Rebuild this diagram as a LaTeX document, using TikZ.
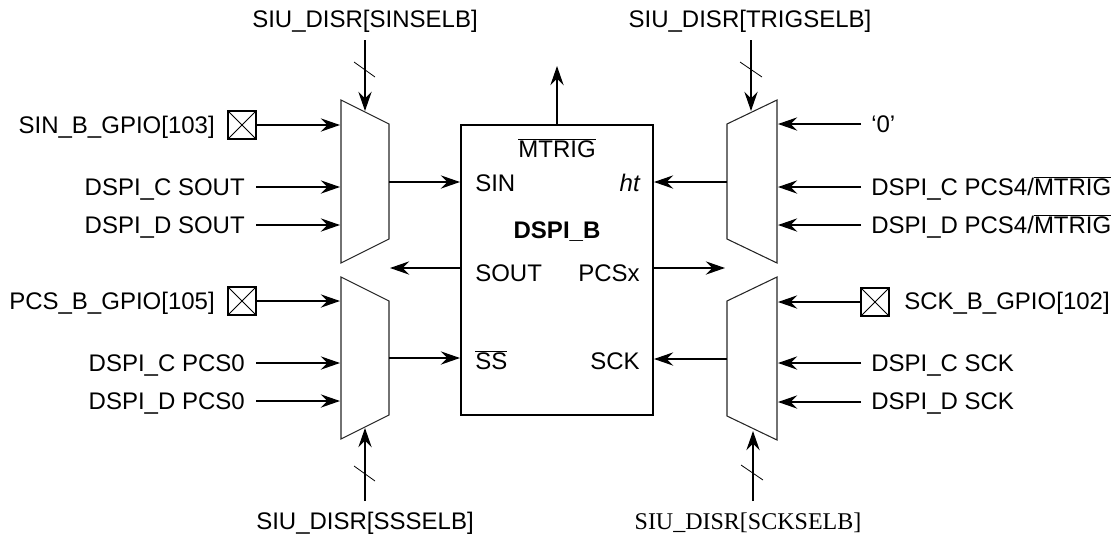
\documentclass[tikz,border=0pt]{standalone}
\usepackage{fontspec}
\setmainfont{Liberation Sans}
\newfontfamily\serifFnt{Liberation Serif}
\usetikzlibrary{arrows.meta,shapes.misc}
\tikzset{
  sigLine/.style={line width=1.5pt,-{Stealth[length=14.5pt,width=10pt,inset=5pt]}},
  muxLine/.style={line width=.8pt,draw=black!85},
  tickLine/.style={line width=.6pt},
  blockBox/.style={draw,line width=1.5pt,minimum width=144pt,minimum height=217.5pt,inner sep=0pt},
  pinBox/.style={draw,cross out,line width=.6pt,minimum size=21pt,inner sep=0pt},
  pinFrame/.style={draw,line width=1.5pt,minimum size=21pt,inner sep=0pt},
  lblTxt/.style={font=\fontsize{18}{22}\selectfont,inner sep=0pt},
  lblL/.style={lblTxt,anchor=mid west,yshift=-4pt},
  lblR/.style={lblTxt,anchor=mid east,yshift=-4pt}
}
\newcommand{\ovl}[1]{$\overline{\mbox{#1}}$}
\begin{document}
\begin{tikzpicture}[x=.75pt,y=-.75pt]

\useasboundingbox (0,0) rectangle (1114,536);

% block
\node[blockBox] (DSPIB) at (557,270) {};

% muxes
\draw[muxLine] (341,100) -- (389,124) -- (389,239) -- (341,263) -- cycle;
\draw[muxLine] (341,277) -- (389,301) -- (389,415) -- (341,439) -- cycle;
\draw[muxLine] (777,100) -- (727,124) -- (727,239) -- (777,263) -- cycle;
\draw[muxLine] (777,277) -- (727,301) -- (727,416) -- (777,440) -- cycle;

% pins
\node[pinBox] (PinSin) at (242,125) {};
\node[pinFrame] at (PinSin) {};
\node[pinBox] (PinPcs) at (242,301) {};
\node[pinFrame] at (PinPcs) {};
\node[pinBox] (PinSck) at (875,302) {};
\node[pinFrame] at (PinSck) {};

% labels, left
\node[lblR] (SinGpio) at (215,125) {SIN\_B\_GPIO[103]};
\node[lblR] (CSout) at (245,187) {DSPI\_C SOUT};
\node[lblR] (DSout) at (245,225) {DSPI\_D SOUT};
\node[lblR] (PcsGpio) at (215,301) {PCS\_B\_GPIO[105]};
\node[lblR] (CPcs) at (245,363) {DSPI\_C PCS0};
\node[lblR] (DPcs) at (245,401) {DSPI\_D PCS0};

% labels, right
\node[lblL] (Zero) at (871,124) {`0'};
\node[lblL] (CTrig) at (871,187) {DSPI\_C PCS4/\ovl{MTRIG}};
\node[lblL] (DTrig) at (871,225) {DSPI\_D PCS4/\ovl{MTRIG}};
\node[lblL] (SckGpio) at (904,301) {SCK\_B\_GPIO[102]};
\node[lblL] (CSck) at (871,363) {DSPI\_C SCK};
\node[lblL] (DSck) at (871,401) {DSPI\_D SCK};

% labels, select
\node[lblTxt] (SelSin) at (365,21) {SIU\_DISR[SINSELB]};
\node[lblTxt] (SelTrig) at (750,21) {SIU\_DISR[TRIGSELB]};
\node[lblTxt] (SelSs) at (365,523) {SIU\_DISR[SSSELB]};
\node[lblTxt,font=\fontsize{18}{22}\serifFnt] (SelSck) at (748,523) {SIU\_DISR[SCKSELB]};

% labels, block
\node[lblTxt] (Mtrig) at (557,148) {\ovl{MTRIG}};
\node[lblTxt,font=\fontsize{18}{22}\selectfont\bfseries] (Name) at (557,232) {DSPI\_B};
\node[lblL] (Sin) at (475,183) {SIN};
\node[lblR] (Ht) at (640,183) {\itshape ht};
\node[lblL] (Sout) at (475,273) {SOUT};
\node[lblR] (Pcsx) at (640,273) {PCSx};
\node[lblL] (Ss) at (475,361) {\ovl{SS}};
\node[lblR] (Sck) at (640,361) {SCK};

% free ends on the muxes
\coordinate (a1) at (340,125);
\coordinate (a2) at (340,187);
\coordinate (a3) at (340,225);
\coordinate (a4) at (389,182);
\coordinate (b1) at (340,301);
\coordinate (b2) at (340,363);
\coordinate (b3) at (340,401);
\coordinate (b4) at (389,358);
\coordinate (c1) at (778,124);
\coordinate (c2) at (778,187);
\coordinate (c3) at (778,225);
\coordinate (c4) at (727,182);
\coordinate (d1) at (778,302);
\coordinate (d2) at (778,363);
\coordinate (d3) at (778,402);
\coordinate (d4) at (727,359);

% left inputs
\draw[sigLine] (PinSin.east) -- (a1);
\draw[sigLine] (256,187) coordinate (a2s) -- (a2);
\draw[sigLine] (256,225) coordinate (a3s) -- (a3);
\draw[sigLine] (PinPcs.east) -- (b1);
\draw[sigLine] (256,363) coordinate (b2s) -- (b2);
\draw[sigLine] (256,401) coordinate (b3s) -- (b3);

% right inputs
\draw[sigLine] (861,124) coordinate (c1s) -- (c1);
\draw[sigLine] (861,187) coordinate (c2s) -- (c2);
\draw[sigLine] (861,225) coordinate (c3s) -- (c3);
\draw[sigLine] (PinSck.west) -- (d1);
\draw[sigLine] (861,363) coordinate (d2s) -- (d2);
\draw[sigLine] (861,402) coordinate (d3s) -- (d3);

% mux outputs
\draw[sigLine] (a4) -- (a4 -| DSPIB.west);
\draw[sigLine] (b4) -- (b4 -| DSPIB.west);
\draw[sigLine] (c4) -- (c4 -| DSPIB.east);
\draw[sigLine] (d4) -- (d4 -| DSPIB.east);

% block outputs
\coordinate (MtrigEnd) at (557,66);
\coordinate (SoutEnd) at (390,268);
\coordinate (PcsEnd) at (725,268);
\draw[sigLine] (DSPIB.north) -- (MtrigEnd);
\draw[sigLine] (SoutEnd -| DSPIB.west) -- (SoutEnd);
\draw[sigLine] (PcsEnd -| DSPIB.east) -- (PcsEnd);

% selects
\coordinate (s1) at (365,111);
\coordinate (s2) at (751,111);
\coordinate (s3) at (365,428);
\coordinate (s4) at (753,431);
\draw[sigLine] (365,40) coordinate (s1s) -- (s1);
\draw[sigLine] (751,40) coordinate (s2s) -- (s2);
\draw[sigLine] (365,501) coordinate (s3s) -- (s3);
\draw[sigLine] (753,501) coordinate (s4s) -- (s4);
\draw[tickLine] (354,62) -- (375,77);
\draw[tickLine] (740,62) -- (762,77);
\draw[tickLine] (354,466) -- (375,481);
\draw[tickLine] (741,465) -- (763,480);

\end{tikzpicture}
\end{document}
